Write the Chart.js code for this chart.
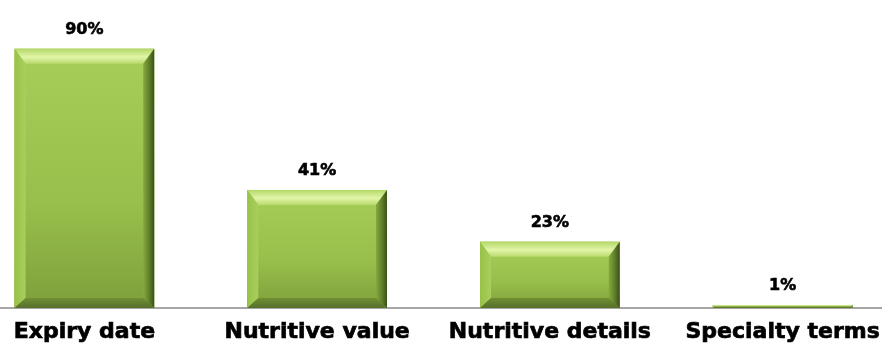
<!DOCTYPE html>
<html>
<head>
<meta charset="utf-8">
<script src="https://cdn.jsdelivr.net/npm/chart.js@4.4.1/dist/chart.umd.min.js"></script>
<style>
  html, body { margin: 0; padding: 0; background: #fff; overflow: hidden; }
  #wrap { position: absolute; left: -32px; top: 0; width: 931px; height: 356px; }
</style>
</head>
<body>
<div id="wrap"><canvas id="c" width="931" height="356"></canvas></div>
<script>
// Share of respondents reading each label element
const categories = ['Expiry date', 'Nutritive value', 'Nutritive details', 'Specialty terms'];
const shares = [90, 41, 23, 1];
const valueLabels = ['90%', '41%', '23%', '1%'];

// Bevelled "raised" look for each bar, drawn over the element geometry
const bevelBars = {
  id: 'bevelBars',
  afterDatasetsDraw(chart) {
    const ctx = chart.ctx;
    const meta = chart.getDatasetMeta(0);
    meta.data.forEach((bar) => {
      const left = bar.x - bar.width / 2;
      const right = bar.x + bar.width / 2;
      const top = Math.min(bar.y, bar.base);
      const bottom = Math.max(bar.y, bar.base);
      const h = bottom - top;
      const w = right - left;
      const bt = Math.min(15, h / 2);
      const bs = Math.min(11, h / 2);
      const bb = Math.min(10, h / 2);
      ctx.save();
      // face
      let g = ctx.createLinearGradient(0, top, 0, bottom);
      g.addColorStop(0, '#a8ce5a');
      g.addColorStop(0.6, '#98bf4b');
      g.addColorStop(1, '#7e9f3b');
      ctx.fillStyle = g;
      ctx.fillRect(left, top, w, h);
      // top bevel
      g = ctx.createLinearGradient(0, top, 0, top + bt);
      g.addColorStop(0, '#b4d868');
      g.addColorStop(0.55, '#e2f5a8');
      g.addColorStop(1, '#b8da6c');
      ctx.fillStyle = g;
      ctx.beginPath();
      ctx.moveTo(left, top); ctx.lineTo(right, top);
      ctx.lineTo(right - bs, top + bt); ctx.lineTo(left + bs, top + bt);
      ctx.closePath(); ctx.fill();
      // left bevel
      g = ctx.createLinearGradient(left, 0, left + bs, 0);
      g.addColorStop(0, '#98c248');
      g.addColorStop(1, '#a9cf5c');
      ctx.fillStyle = g;
      ctx.beginPath();
      ctx.moveTo(left, top); ctx.lineTo(left + bs, top + bt);
      ctx.lineTo(left + bs, bottom - bb); ctx.lineTo(left, bottom);
      ctx.closePath(); ctx.fill();
      // right bevel
      g = ctx.createLinearGradient(right - bs, 0, right, 0);
      g.addColorStop(0, '#86aa3e');
      g.addColorStop(0.6, '#5b7a28');
      g.addColorStop(1, '#3a4f18');
      ctx.fillStyle = g;
      ctx.beginPath();
      ctx.moveTo(right, top); ctx.lineTo(right - bs, top + bt);
      ctx.lineTo(right - bs, bottom - bb); ctx.lineTo(right, bottom);
      ctx.closePath(); ctx.fill();
      // bottom bevel
      g = ctx.createLinearGradient(0, bottom - bb, 0, bottom);
      g.addColorStop(0, '#718f34');
      g.addColorStop(1, '#56702a');
      ctx.fillStyle = g;
      ctx.beginPath();
      ctx.moveTo(left, bottom); ctx.lineTo(left + bs, bottom - bb);
      ctx.lineTo(right - bs, bottom - bb); ctx.lineTo(right, bottom);
      ctx.closePath(); ctx.fill();
      ctx.restore();
    });
  }
};

// Percent labels above each bar
const valueText = {
  id: 'valueText',
  afterDatasetsDraw(chart) {
    const ctx = chart.ctx;
    const meta = chart.getDatasetMeta(0);
    ctx.save();
    ctx.font = 'bold 16px "DejaVu Sans"';
    ctx.fillStyle = '#000';
    ctx.strokeStyle = '#000';
    ctx.lineWidth = 0.6;
    ctx.textAlign = 'center';
    ctx.textBaseline = 'middle';
    meta.data.forEach((bar, i) => {
      ctx.fillText(valueLabels[i], bar.x, bar.y - 19);
      ctx.strokeText(valueLabels[i], bar.x, bar.y - 19);
    });
    ctx.restore();
  }
};

new Chart(document.getElementById('c'), {
  type: 'bar',
  data: {
    labels: categories,
    datasets: [{
      data: shares,
      backgroundColor: '#98bf4b',
      borderWidth: 0,
      barPercentage: 1,
      categoryPercentage: 0.6
    }]
  },
  options: {
    responsive: false,
    animation: false,
    devicePixelRatio: 1,
    layout: { padding: { top: 20, left: 0, right: 0, bottom: 0 } },
    plugins: { legend: { display: false }, tooltip: { enabled: false } },
    scales: {
      x: {
        grid: { display: false, drawTicks: false },
        border: { display: true, color: '#a6a6a6', width: 2 },
        ticks: {
          color: '#000',
          padding: 11,
          textStrokeColor: '#000',
          textStrokeWidth: 0.7,
          font: { family: '"DejaVu Sans"', weight: 'bold', size: 22 },
          maxRotation: 0, autoSkip: false
        },
        afterFit(s) { s.height = 48; }
      },
      y: {
        display: false,
        min: 0,
        max: 100
      }
    }
  },
  plugins: [bevelBars, valueText]
});
</script>
</body>
</html>
